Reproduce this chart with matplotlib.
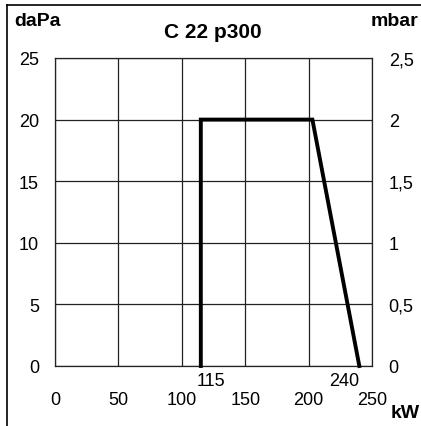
import matplotlib
matplotlib.use('Agg')
import matplotlib.pyplot as plt
from matplotlib.lines import Line2D

plt.rcParams['font.family'] = ['Liberation Sans', 'DejaVu Sans']

# data
power_kw = [115, 115, 203, 240]
pressure_dapa = [0, 20, 20, 0]
x_ticks = [0, 50, 100, 150, 200, 250]
y_ticks = [0, 5, 10, 15, 20, 25]
mbar_labels = ['0', '0,5', '1', '1,5', '2', '2,5']
marked_kw = [115, 240]

W, H = 421, 427
fig = plt.figure(figsize=(W / 100, H / 100), dpi=100)
ax = fig.add_axes((55 / W, 1 - 367 / H, 317 / W, 308 / H))

ax.set_xlim(0, 250)
ax.set_ylim(0, 25)
ax.set_xticks(x_ticks)
ax.set_yticks(y_ticks)
ax.grid(True, color='#222222', linewidth=0.9)
for s in ax.spines.values():
    s.set_linewidth(0.9)
    s.set_color('#222222')
ax.tick_params(length=0, labelsize=13, pad=11.5)
ax.tick_params(axis='x', pad=18)
ax.set_axisbelow(True)

ax.plot(power_kw, pressure_dapa, color='black', linewidth=2.8,
        solid_joinstyle='miter', clip_on=False, zorder=3)

# right mbar axis
ax2 = ax.twinx()
ax2.set_ylim(0, 2.5)
ax2.set_yticks([t / 10 for t in y_ticks])
ax2.set_yticklabels(mbar_labels)
ax2.tick_params(length=0, labelsize=13, pad=12)
for s in ax2.spines.values():
    s.set_visible(False)

# 115 sits right of its line, 240 left of its line
ax.text(marked_kw[0] - 3, -1.2, str(marked_kw[0]), ha='left', va='center', fontsize=13)
ax.text(marked_kw[1], -1.2, str(marked_kw[1]), ha='right', va='center', fontsize=13)

fig.text(14 / W, 1 - 22 / H, 'daPa', fontsize=14, fontweight='bold', va='center', ha='left')
fig.text(418 / W, 1 - 22 / H, 'mbar', fontsize=14, fontweight='bold', va='center', ha='right')
fig.text(213 / W, 1 - 32 / H, 'C 22 p300', fontsize=15, fontweight='bold', va='center', ha='center')
fig.text(405 / W, 1 - 414 / H, 'kW', fontsize=14, fontweight='bold', va='center', ha='center')

# outer frame (left and top edges)
fig.add_artist(Line2D([7 / W, 7 / W], [0, 1 - 6 / H], color='black', linewidth=1.2))
fig.add_artist(Line2D([7 / W, 1], [1 - 6 / H, 1 - 6 / H], color='black', linewidth=1.2))

fig.savefig('out.png', dpi=100)
